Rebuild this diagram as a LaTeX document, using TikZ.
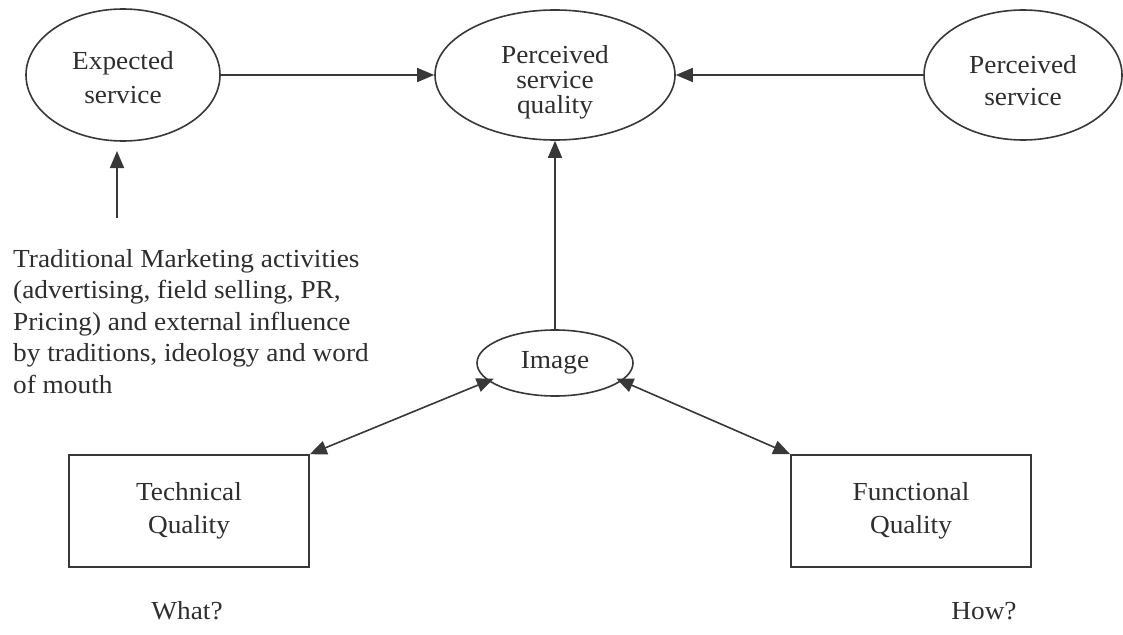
\documentclass[tikz,border=0pt]{standalone}
\usepackage{fontspec}
\setmainfont{Liberation Serif}[FakeStretch=1.05]
\usetikzlibrary{shapes.geometric,arrows.meta,calc}
\definecolor{ink}{HTML}{2E2E2E}
\definecolor{linec}{HTML}{383838}
\begin{document}
\begin{tikzpicture}[x=1pt,y=-1pt,
  every node/.style={text=ink,font=\fontsize{26}{33}\selectfont,align=center},
  every label/.style={text=ink,align=center},
  oval/.style={ellipse,draw=linec,line width=1.6pt,inner sep=0pt},
  qbox/.style={rectangle,draw=linec,line width=1.6pt,inner sep=0pt,minimum width=240pt,minimum height=112pt},
  conn/.style={draw=linec,line width=1.6pt,-{Triangle[length=17pt,width=14pt]}},
  dconn/.style={draw=linec,line width=1.6pt,{Triangle[length=17pt,width=14pt]}-{Triangle[length=17pt,width=14pt]}}
]
\useasboundingbox (0,0) rectangle (1123,634);
\fill[white] (0,0) rectangle (1123,634);

\node[oval,minimum width=194pt,minimum height=132pt,
  label={[name=est,yshift=-3pt,font=\fontsize{26}{34}\selectfont]center:Expected\\service}] (es) at (123,75) {};
\node[oval,minimum width=240pt,minimum height=130pt,
  label={[name=psqt,yshift=-7pt,font=\fontsize{26}{25}\selectfont]center:Perceived\\service\\quality}] (psq) at (555,75) {};
\node[oval,minimum width=198pt,minimum height=130pt,
  label={[name=pst,yshift=-6pt,font=\fontsize{26}{32}\selectfont]center:Perceived\\service}] (ps) at (1023,75) {};
\node[oval,minimum width=156pt,minimum height=66pt] (img) at (555,363) {Image};
\node[qbox] (tq) at (189,511) {Technical\\Quality};
\node[qbox] (fq) at (911,511) {Functional\\Quality};

\node[anchor=north west,align=left,inner sep=0pt,font=\fontsize{26}{31.5}\selectfont] (trad) at (13,249)
  {Traditional Marketing activities\\(advertising, field selling, PR,\\Pricing) and external influence\\by traditions, ideology and word\\of mouth};

\node (what) at (187,611) {What?};
\node (how) at (984,611) {How?};

\coordinate (vt) at (117,218);
\coordinate (vh) at (117,151);

\draw[conn] (es.east) -- (psq.west);
\draw[conn] (ps.west) -- (psq.east);
\draw[conn] (vt) -- (vh);
\draw[conn] (img.north) -- (psq.south);
\draw[dconn,shorten >=-6pt] (tq.north east) -- (img.195);
\draw[dconn,shorten >=-6pt] (fq.north west) -- (img.-15);
\end{tikzpicture}
\end{document}
